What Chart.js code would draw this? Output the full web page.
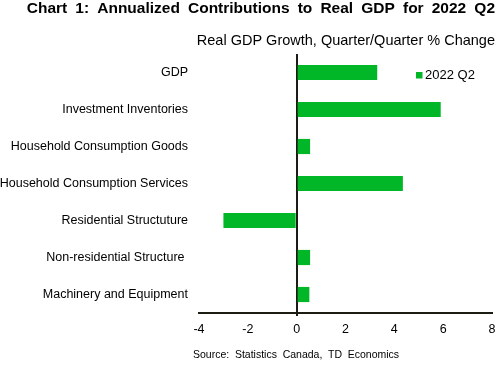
<!DOCTYPE html>
<html><head><meta charset="utf-8">
<script src="https://cdn.jsdelivr.net/npm/chart.js@4"></script>
<style>html,body{margin:0;padding:0;background:#fff}#wrap{width:497px;height:367px}</style>
</head><body><div id="wrap"><canvas id="c" width="497" height="367"></canvas></div>
<script>
const titleText = "Chart 1: Annualized Contributions to Real GDP for 2022 Q2";
const subtitleText = "Real GDP Growth, Quarter/Quarter % Change";
const sourceText = "Source: Statistics Canada, TD Economics";
const categories = ["GDP","Investment Inventories","Household Consumption Goods","Household Consumption Services","Residential Structuture","Non-residential Structure ","Machinery and Equipment"];
const seriesLabel = "2022 Q2";
const values = [3.3, 5.9, 0.55, 4.35, -3.0, 0.55, 0.52];
const xTicksMin = -4, xTicksMax = 8, xTickStep = 2;

const GREEN = "#02B727";
const DARK = "#1C1C12";
const FONT = "'Liberation Sans', Arial, sans-serif";

const textPlugin = {
  id: 'texts',
  afterDraw(chart) {
    const ctx = chart.ctx;
    ctx.save();
    ctx.fillStyle = "#000";
    ctx.textBaseline = "alphabetic";
    ctx.font = "bold 15.5px " + FONT;
    ctx.textAlign = "right";
    ctx.wordSpacing = "3.8px";
    ctx.fillText(titleText, 495, 13);
    ctx.wordSpacing = "0px";
    ctx.font = "14.5px " + FONT;
    ctx.fillText(subtitleText, 495, 44.5);
    ctx.font = "10.5px " + FONT;
    ctx.textAlign = "left";
    ctx.wordSpacing = "2.8px";
    ctx.fillText(sourceText, 193, 358);
    ctx.wordSpacing = "0px";
    // legend
    const ds = chart.data.datasets[0];
    ctx.fillStyle = ds.backgroundColor;
    ctx.fillRect(416, 72, 6.5, 6.5);
    ctx.fillStyle = "#000";
    ctx.font = "13px " + FONT;
    ctx.textBaseline = "middle";
    ctx.fillText(ds.label, 425, 75.5);
    ctx.restore();
  }
};

new Chart(document.getElementById('c'), {
  type: 'bar',
  data: {
    labels: categories,
    datasets: [{ label: seriesLabel, data: values, backgroundColor: GREEN, borderWidth: 0,
      barPercentage: 0.41, categoryPercentage: 1 }]
  },
  options: {
    indexAxis: 'y',
    responsive: false,
    animation: false,
    layout: { padding: { top: 54, right: 5, left: 0, bottom: 0 } },
    plugins: { legend: { display: false }, title: { display: false }, tooltip: { enabled: false } },
    scales: {
      x: {
        min: xTicksMin, max: xTicksMax,
        ticks: { stepSize: xTickStep, color: "#000", font: { family: FONT, size: 12.5 }, padding: 6 },
        grid: {
          color: (c) => (c.tick && c.tick.value === 0) ? DARK : 'rgba(0,0,0,0)',
          lineWidth: 2, tickLength: 3, drawTicks: true
        },
        border: { display: true, color: DARK, width: 2 },
        afterFit: (s) => { s.height = 54; s.paddingRight = 0; s.paddingLeft = 0; }
      },
      y: {
        ticks: { color: "#000", font: { family: FONT, size: 12.5 }, padding: 11 },
        grid: { display: false, drawTicks: false },
        border: { display: false },
        afterFit: (s) => { s.width = 199; }
      }
    }
  },
  plugins: [textPlugin]
});
</script></body></html>
